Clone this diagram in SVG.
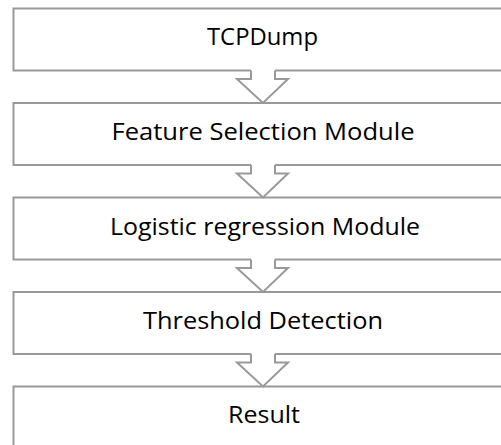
<svg xmlns="http://www.w3.org/2000/svg" width="501" height="445" viewBox="0 0 501 445">
<style>
.box{fill:#fff;stroke:#999;stroke-width:2}
.arr{fill:#fff;stroke:none}
.arl{fill:none;stroke:#999;stroke-width:2;stroke-linejoin:miter}
.t{font-family:"Open Sans","Noto Sans",sans-serif;font-size:23px;fill:#000;text-anchor:middle}
</style>
<rect width="501" height="445" fill="#fff"/>
<g id="n1"><rect class="box" x="13.5" y="8.5" width="510" height="62"/><text class="t" x="262.5" y="44.5" textLength="111" lengthAdjust="spacingAndGlyphs">TCPDump</text></g>
<g id="n2"><rect class="box" x="13.5" y="103" width="510" height="62"/><text class="t" x="263" y="140" textLength="303" lengthAdjust="spacingAndGlyphs">Feature Selection Module</text></g>
<g id="n3"><rect class="box" x="13.5" y="197.5" width="510" height="62"/><text class="t" x="265" y="234.5" textLength="310" lengthAdjust="spacingAndGlyphs">Logistic regression Module</text></g>
<g id="n4"><rect class="box" x="13.5" y="292" width="510" height="62"/><text class="t" x="263" y="329" textLength="240" lengthAdjust="spacingAndGlyphs">Threshold Detection</text></g>
<g id="n5"><rect class="box" x="13.5" y="386.5" width="510" height="70"/><text class="t" x="264" y="423.3" textLength="72" lengthAdjust="spacingAndGlyphs">Result</text></g>
<g id="connectors">
<g transform="translate(0,0)"><polygon class="arr" points="251,68 251,79 237,79 263,103 288,79 275,79 275,68"/><polyline class="arl" points="251,70.5 251,79 237,79 263,103 288,79 275,79 275,70.5"/></g>
<g transform="translate(0,94.5)"><polygon class="arr" points="251,68 251,79 237,79 263,103 288,79 275,79 275,68"/><polyline class="arl" points="251,70.5 251,79 237,79 263,103 288,79 275,79 275,70.5"/></g>
<g transform="translate(0,189)"><polygon class="arr" points="251,68 251,79 237,79 263,103 288,79 275,79 275,68"/><polyline class="arl" points="251,70.5 251,79 237,79 263,103 288,79 275,79 275,70.5"/></g>
<g transform="translate(0,283.5)"><polygon class="arr" points="251,68 251,79 237,79 263,103 288,79 275,79 275,68"/><polyline class="arl" points="251,70.5 251,79 237,79 263,103 288,79 275,79 275,70.5"/></g>
</g>
</svg>
